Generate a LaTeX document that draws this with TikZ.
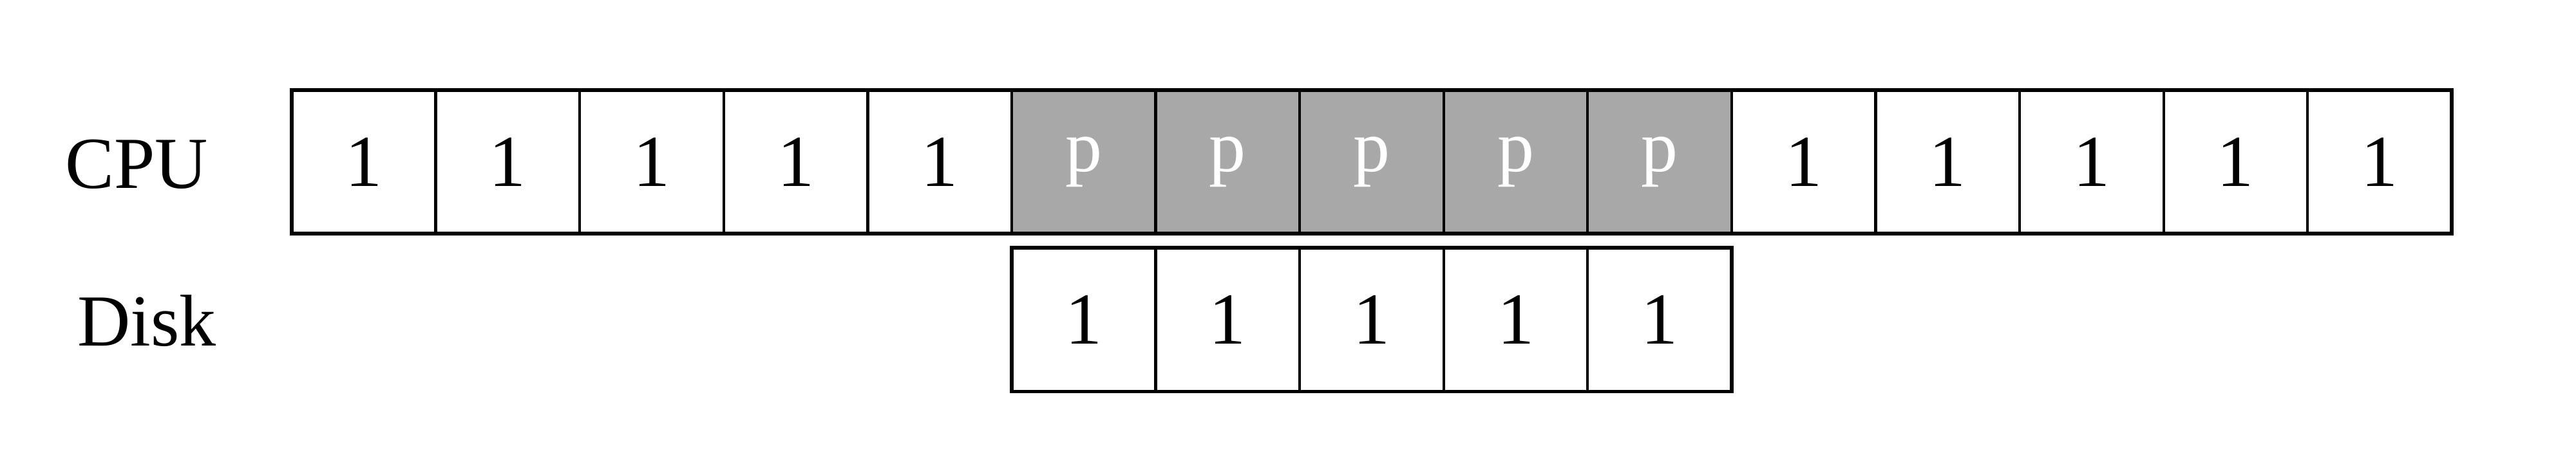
\documentclass[tikz,border=0pt]{standalone}
\usepackage{fontspec}
\setmainfont{Liberation Serif}
\definecolor{busygray}{HTML}{A8A8A8}
\tikzset{
  cell/.style={draw, line width=1.1pt, minimum width=2cm, minimum height=2cm, inner sep=0pt, outer sep=0pt, font=\fontsize{29}{34}\selectfont},
  pcell/.style={cell, fill=busygray, text=white},
  frame/.style={line width=1.45pt},
  rowlabel/.style={anchor=base, font=\fontsize{29}{34}\selectfont}
}
\begin{document}
\begin{tikzpicture}
\useasboundingbox (0,0) rectangle (35.78,-6.42);

% Row labels
\node[rowlabel] (cpu) at (1.90,-2.62) {CPU};
\node[rowlabel] (disk) at (2.04,-4.81) {Disk};

% CPU row
\node[cell] (c1) at (5.052,-2.25) {1};
\node[cell] (c2) at (7.052,-2.25) {1};
\node[cell] (c3) at (9.052,-2.25) {1};
\node[cell] (c4) at (11.052,-2.25) {1};
\node[cell] (c5) at (13.052,-2.25) {1};
\node[pcell] (c6) at (15.052,-2.25) {p};
\node[pcell] (c7) at (17.052,-2.25) {p};
\node[pcell] (c8) at (19.052,-2.25) {p};
\node[pcell] (c9) at (21.052,-2.25) {p};
\node[pcell] (c10) at (23.052,-2.25) {p};
\node[cell] (c11) at (25.052,-2.25) {1};
\node[cell] (c12) at (27.052,-2.25) {1};
\node[cell] (c13) at (29.052,-2.25) {1};
\node[cell] (c14) at (31.052,-2.25) {1};
\node[cell] (c15) at (33.052,-2.25) {1};
\draw[frame] (c1.north west) rectangle (c15.south east);

% Disk row
\node[cell] (d1) at (15.052,-4.444) {1};
\node[cell] (d2) at (17.052,-4.444) {1};
\node[cell] (d3) at (19.052,-4.444) {1};
\node[cell] (d4) at (21.052,-4.444) {1};
\node[cell] (d5) at (23.052,-4.444) {1};
\draw[frame] (d1.north west) rectangle (d5.south east);
\end{tikzpicture}
\end{document}
